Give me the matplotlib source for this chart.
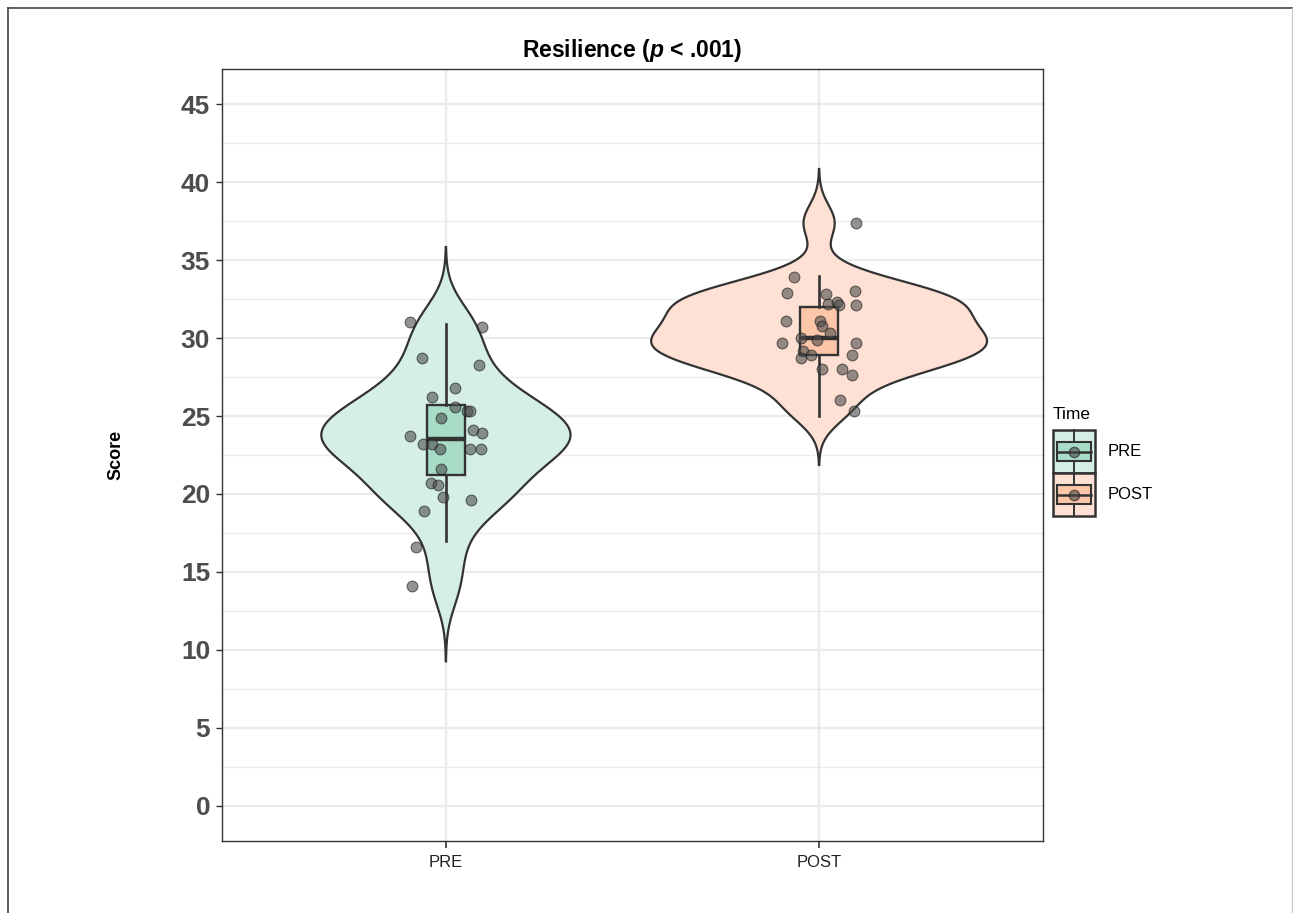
import numpy as np
import matplotlib.pyplot as plt
from matplotlib.patches import Rectangle
from matplotlib.lines import Line2D
from matplotlib.legend_handler import HandlerBase

plt.rcParams['font.family'] = ['Liberation Sans', 'DejaVu Sans']
plt.rcParams['mathtext.fontset'] = 'custom'
plt.rcParams['mathtext.it'] = 'Liberation Sans:bold:italic'
plt.rcParams['mathtext.rm'] = 'Liberation Sans:bold'

# ---------------------------------------------------
# Data
# ---------------------------------------------------
groups = ["PRE", "POST"]

pre_scores = [31.0, 30.7, 28.7, 28.3, 26.8, 26.2, 25.6, 25.3, 25.3, 24.9,
              23.7, 24.1, 23.9, 23.2, 23.2, 22.9, 22.9, 22.9, 21.6, 20.7,
              20.6, 19.8, 19.6, 18.9, 16.6, 14.1]
post_scores = [33.9, 32.9, 32.8, 33.0, 32.2, 32.3, 32.1, 32.1, 31.1, 31.1,
               30.8, 30.3, 29.7, 30.0, 29.9, 29.7, 29.2, 28.7, 28.9, 28.9,
               28.0, 28.0, 27.6, 26.0, 25.3, 37.4]

# horizontal jitter of each point, as seen in the picture
pre_jitter = [-0.095, 0.098, -0.064, 0.088, 0.024, -0.038, 0.024, 0.057, 0.064, -0.013,
              -0.097, 0.073, 0.098, -0.061, -0.038, -0.016, 0.064, 0.093, -0.012, -0.041,
              -0.022, -0.009, 0.066, -0.059, -0.079, -0.092]
post_jitter = [-0.067, -0.087, 0.018, 0.096, 0.025, 0.047, 0.054, 0.098, -0.089, 0.003,
               0.009, 0.029, -0.100, -0.049, -0.006, 0.098, -0.042, -0.049, -0.022, 0.087,
               0.007, 0.062, 0.087, 0.056, 0.094, 0.099]

# boxplot summary
box_q1 = [21.2, 28.9]
box_med = [23.5, 30.0]
box_q3 = [25.7, 32.0]
whisker_lo = [17.0, 25.0]
whisker_hi = [30.9, 34.0]

violin_colors = ['#d5efe5', '#fee1d4']
box_colors = ['#a8dcc7', '#fdc6a9']
ink = '#333333'


def nrd0(x):
    # R's default bandwidth
    sd = np.std(x, ddof=1)
    iqr = np.subtract(*np.percentile(x, [75, 25]))
    return 0.9 * min(sd, iqr / 1.34) * len(x) ** -0.2


def kde(x):
    x = np.asarray(x)
    bw = nrd0(x)
    grid = np.linspace(x.min() - 3 * bw, x.max() + 3 * bw, 512)
    z = (grid[:, None] - x[None, :]) / bw
    dens = np.exp(-0.5 * z ** 2).sum(axis=1) / (len(x) * bw * np.sqrt(2 * np.pi))
    return grid, dens


class TimeKey(HandlerBase):
    def create_artists(self, legend, orig_handle, xdescent, ydescent,
                       width, height, fontsize, trans):
        x0, y0 = -xdescent, -ydescent
        cx = x0 + width / 2
        cy = y0 + height / 2
        arts = [
            Rectangle((x0, y0), width, height, facecolor=orig_handle.get_facecolor(),
                      edgecolor=ink, lw=1.8, transform=trans),
            Line2D([cx, cx], [y0, y0 + 0.28 * height], color=ink, lw=1.4, transform=trans),
            Line2D([cx, cx], [y0 + 0.72 * height, y0 + height], color=ink, lw=1.4, transform=trans),
            Rectangle((x0 + 0.1 * width, y0 + 0.28 * height), 0.8 * width, 0.44 * height,
                      facecolor=orig_handle.box_color, edgecolor=ink, lw=1.5, transform=trans),
            Line2D([x0 + 0.1 * width, x0 + 0.9 * width], [cy, cy], color=ink, lw=1.8,
                   transform=trans),
            Line2D([cx], [cy], marker='o', ms=7.5, color='#444444', alpha=0.6,
                   markeredgecolor='#222222', transform=trans),
        ]
        return arts


# ---------------------------------------------------
# Plot
# ---------------------------------------------------
fig = plt.figure(figsize=(12.93, 9.13), dpi=100)
ax = fig.add_axes([222 / 1293, 1 - 841 / 913, 821 / 1293, 772 / 913])

all_scores = [pre_scores, post_scores]
all_jitter = [pre_jitter, post_jitter]
dens_list = [kde(s) for s in all_scores]
max_dens = max(d.max() for _, d in dens_list)

for i, (grid, dens) in enumerate(dens_list):
    pos = i + 1
    w = dens / max_dens * 0.45
    ax.fill(np.concatenate([pos - w, (pos + w)[::-1]]),
            np.concatenate([grid, grid[::-1]]),
            facecolor=violin_colors[i], edgecolor=ink, lw=1.6, zorder=2)

stats = []
for i in range(len(groups)):
    stats.append(dict(med=box_med[i], q1=box_q1[i], q3=box_q3[i],
                      whislo=whisker_lo[i], whishi=whisker_hi[i], fliers=[]))
bp = ax.bxp(stats, positions=[1, 2], widths=0.1, patch_artist=True,
            showfliers=False, showcaps=False,
            boxprops=dict(edgecolor=ink, lw=1.7),
            medianprops=dict(color=ink, lw=3.2),
            whiskerprops=dict(color=ink, lw=1.9))
for patch, c in zip(bp['boxes'], box_colors):
    patch.set_facecolor(c)
    patch.set_zorder(3)
for art in bp['medians'] + bp['whiskers']:
    art.set_zorder(3)

for i in range(len(groups)):
    ax.scatter(np.array(all_jitter[i]) + i + 1, all_scores[i], s=60,
               c='#4d4d4d', alpha=0.6, edgecolors='#1a1a1a', linewidths=0.8, zorder=5)

ax.set_xlim(0.4, 2.6)
ax.set_ylim(-2.25, 47.25)
ax.set_xticks([1, 2])
ax.set_xticklabels(groups, fontsize=12, color='#222222')
ax.set_yticks(np.arange(0, 46, 5))
ax.set_yticks(np.arange(2.5, 46, 5), minor=True)
ax.tick_params(axis='y', which='major', labelsize=19, labelcolor='#4d4d4d',
               length=4, width=1, color=ink, pad=4.5)
ax.tick_params(axis='y', which='minor', length=0)
ax.tick_params(axis='x', length=5, width=1.2, color=ink, pad=5)
for lab in ax.get_yticklabels():
    lab.set_fontweight('bold')

ax.grid(which='major', color='#ebebeb', lw=1.6)
ax.grid(which='minor', axis='y', color='#ebebeb', lw=0.9)
ax.set_axisbelow(True)
for sp in ax.spines.values():
    sp.set_color(ink)
    sp.set_linewidth(1.0)

ax.set_title(r'Resilience ($p$ < .001)', fontsize=16.5, fontweight='bold', pad=9)
ax.set_ylabel('Score', fontsize=13, fontweight='bold')
ax.yaxis.set_label_coords(-0.119, 0.5)

# legend
handles = []
for i in range(len(groups)):
    h = Rectangle((0, 0), 1, 1, facecolor=violin_colors[i])
    h.box_color = box_colors[i]
    handles.append(h)
leg = fig.legend(handles, groups, handler_map={Rectangle: TimeKey()},
                 loc='upper left', bbox_to_anchor=(1053 / 1293, 1 - 430 / 913),
                 frameon=False, fontsize=12,
                 handlelength=2.5, handleheight=3.6, labelspacing=0,
                 handletextpad=0.75, borderpad=0, borderaxespad=0)
fig.text(1053 / 1293, 1 - 419 / 913, 'Time', fontsize=12.5, ha='left', va='baseline')

# outer frame of the exported figure
fig.add_artist(Line2D([7.5 / 1293, 1], [1 - 8 / 913] * 2, color='#444444', lw=1.2))
fig.add_artist(Line2D([7.5 / 1293] * 2, [0, 1 - 8 / 913], color='#444444', lw=1.2))
fig.add_artist(Line2D([1292 / 1293] * 2, [0, 1 - 8 / 913], color='#cccccc', lw=1.0))

fig.savefig('out.png', dpi=100)
